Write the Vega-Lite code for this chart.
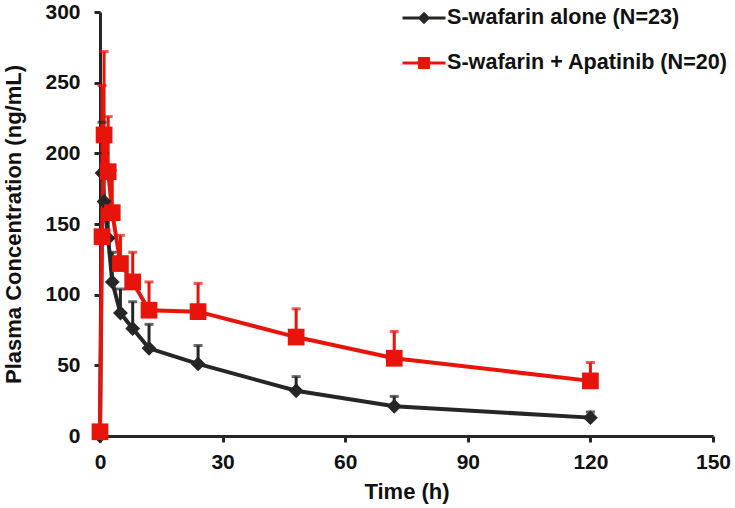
{
  "$schema": "https://vega.github.io/schema/vega-lite/v6.json",
  "width": 613,
  "height": 424,
  "autosize": {"type": "none"},
  "padding": {"left": 100, "top": 12, "right": 22, "bottom": 72},
  "background": "white",
  "config": {
    "view": {"stroke": null},
    "font": "Liberation Sans",
    "axis": {
      "labelFont": "Liberation Sans",
      "titleFont": "Liberation Sans",
      "labelFontWeight": "bold",
      "titleFontWeight": "bold",
      "labelFontSize": 21,
      "titleFontSize": 22,
      "labelColor": "#111111",
      "titleColor": "#111111",
      "domainColor": "#262626",
      "domainWidth": 3,
      "tickColor": "#262626",
      "tickWidth": 3,
      "tickSize": 6,
      "labelFlush": false,
      "grid": false
    }
  },
  "data": {
    "values": [
      {"series": "S-wafarin alone (N=23)", "time": 0, "conc": 0, "upper": null},
      {"series": "S-wafarin alone (N=23)", "time": 0.5, "conc": 186, "upper": 222},
      {"series": "S-wafarin alone (N=23)", "time": 1, "conc": 166, "upper": 200},
      {"series": "S-wafarin alone (N=23)", "time": 2, "conc": 140, "upper": 166},
      {"series": "S-wafarin alone (N=23)", "time": 3, "conc": 109, "upper": 130},
      {"series": "S-wafarin alone (N=23)", "time": 5, "conc": 87, "upper": 104},
      {"series": "S-wafarin alone (N=23)", "time": 8, "conc": 76, "upper": 95},
      {"series": "S-wafarin alone (N=23)", "time": 12, "conc": 62, "upper": 79},
      {"series": "S-wafarin alone (N=23)", "time": 24, "conc": 51, "upper": 64},
      {"series": "S-wafarin alone (N=23)", "time": 48, "conc": 32, "upper": 42},
      {"series": "S-wafarin alone (N=23)", "time": 72, "conc": 21, "upper": 28},
      {"series": "S-wafarin alone (N=23)", "time": 120, "conc": 13, "upper": 17},
      {"series": "S-wafarin + Apatinib (N=20)", "time": 0, "conc": 3, "upper": null},
      {"series": "S-wafarin + Apatinib (N=20)", "time": 0.5, "conc": 141, "upper": 248},
      {"series": "S-wafarin + Apatinib (N=20)", "time": 1, "conc": 213, "upper": 272},
      {"series": "S-wafarin + Apatinib (N=20)", "time": 2, "conc": 187, "upper": 226},
      {"series": "S-wafarin + Apatinib (N=20)", "time": 3, "conc": 158, "upper": 188},
      {"series": "S-wafarin + Apatinib (N=20)", "time": 5, "conc": 122, "upper": 142},
      {"series": "S-wafarin + Apatinib (N=20)", "time": 8, "conc": 109, "upper": 130},
      {"series": "S-wafarin + Apatinib (N=20)", "time": 12, "conc": 89, "upper": 109},
      {"series": "S-wafarin + Apatinib (N=20)", "time": 24, "conc": 88, "upper": 108},
      {"series": "S-wafarin + Apatinib (N=20)", "time": 48, "conc": 70, "upper": 90},
      {"series": "S-wafarin + Apatinib (N=20)", "time": 72, "conc": 55, "upper": 74},
      {"series": "S-wafarin + Apatinib (N=20)", "time": 120, "conc": 39, "upper": 52}
    ]
  },
  "encoding": {
    "x": {
      "field": "time",
      "type": "quantitative",
      "scale": {"domain": [0, 150], "nice": false, "zero": true},
      "axis": {"values": [0, 30, 60, 90, 120, 150], "title": "Time (h)", "labelPadding": 9, "titlePadding": 9}
    },
    "color": {
      "field": "series",
      "type": "nominal",
      "scale": {"domain": ["S-wafarin alone (N=23)", "S-wafarin + Apatinib (N=20)"], "range": ["#262626", "#e8140c"]},
      "legend": {
        "title": null,
        "orient": "none",
        "legendX": 301,
        "legendY": -17,
        "padding": 0,
        "symbolType": "M-1,0H1M0,-0.15L0.15,0L0,0.15L-0.15,0Z",
        "symbolSize": 1849,
        "symbolStrokeWidth": 3,
        "labelFont": "Liberation Sans",
        "labelFontWeight": "bold",
        "labelFontSize": 21.6,
        "labelColor": "#111111",
        "labelOffset": 0,
        "labelLimit": 400,
        "rowPadding": 11,
        "encode": {
          "symbols": {
            "update": {
              "shape": {"signal": "datum.value == 'S-wafarin alone (N=23)' ? 'M-1,0H1M0,-0.19L0.19,0L0,0.19L-0.19,0Z' : 'M-1,0H1M-0.21,-0.21H0.21V0.21H-0.21Z'"},
              "stroke": {"scale": "color", "field": "value"},
              "fill": {"scale": "color", "field": "value"},
              "strokeWidth": {"value": 3},
              "opacity": {"value": 1}
            }
          }
        }
      }
    }
  },
  "layer": [
    {
      "mark": {"type": "rule", "strokeWidth": 3},
      "encoding": {
        "y": {"field": "conc", "type": "quantitative"},
        "y2": {"field": "upper"}
      }
    },
    {
      "mark": {"type": "tick", "thickness": 3, "size": 9, "orient": "horizontal"},
      "encoding": {
        "y": {"field": "upper", "type": "quantitative"}
      }
    },
    {
      "mark": {"type": "line", "strokeWidth": 4},
      "encoding": {
        "y": {
          "field": "conc",
          "type": "quantitative",
          "scale": {"domain": [0, 300], "nice": false},
          "axis": {"values": [0, 50, 100, 150, 200, 250, 300], "title": "Plasma Concentration (ng/mL)", "labelPadding": 14, "titlePadding": 19}
        }
      }
    },
    {
      "transform": [{"filter": "datum.series == 'S-wafarin alone (N=23)'"}],
      "mark": {"type": "point", "shape": "diamond", "size": 220, "filled": true, "opacity": 1},
      "encoding": {
        "y": {"field": "conc", "type": "quantitative"}
      }
    },
    {
      "transform": [{"filter": "datum.series == 'S-wafarin + Apatinib (N=20)'"}],
      "mark": {"type": "point", "shape": "square", "size": 280, "filled": true, "opacity": 1},
      "encoding": {
        "y": {"field": "conc", "type": "quantitative"}
      }
    }
  ]
}
